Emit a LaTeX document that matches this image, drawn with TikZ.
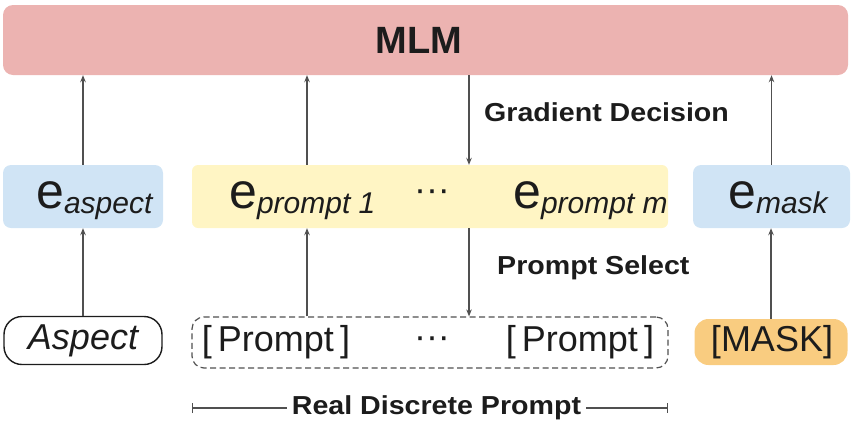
\documentclass[tikz,border=0pt]{standalone}
\usepackage{fontspec}
\setmainfont{Liberation Sans}
\usetikzlibrary{arrows.meta}

\definecolor{mlmpink}{RGB}{236,179,177}
\definecolor{embblue}{RGB}{208,228,245}
\definecolor{embyellow}{RGB}{255,245,196}
\definecolor{maskorange}{RGB}{249,204,128}
\definecolor{ink}{RGB}{28,28,28}
\definecolor{wire}{RGB}{80,80,80}

% embedding symbol: large upright e with an italic lowered subscript
\newcommand{\embsym}[1]{{\fontsize{50}{50}\selectfont e}\raisebox{-5pt}{\fontsize{30}{30}\selectfont\itshape #1}}
\newcommand{\rowdots}{{\fontsize{36}{36}\selectfont\textperiodcentered\textperiodcentered\textperiodcentered}}
\newcommand{\steplabel}[1]{\scalebox{1.1}[1]{\fontsize{26}{26}\selectfont\bfseries #1}}

\begin{document}
\begin{tikzpicture}[x=1pt,y=-1pt,
  every node/.style={text=ink, inner sep=0pt},
  panel/.style={draw=none, minimum width=#1},
  wirearrow/.style={draw=wire, line width=1.2pt, -{Stealth[length=7pt,width=5.5pt]}},
  wireline/.style={draw=wire, line width=1.1pt},
  toklabel/.style={font=\fontsize{36}{36}\selectfont},
  stepnote/.style={anchor=west, inner sep=0pt}
]
\useasboundingbox (0,0) rectangle (851,429);

% masked language model bar
\node[fill=mlmpink, rounded corners=10pt, minimum width=845pt, minimum height=70pt] (mlm) at (425.5,40) {};
\node (mlmtxt) at (419,40) {\fontsize{38}{38}\selectfont\bfseries MLM};

% embedding row
\node[fill=embblue, rounded corners=8pt, minimum width=160pt, minimum height=63pt] (easp) at (83,196.5) {};
\node[fill=embyellow, rounded corners=6pt, minimum width=476pt, minimum height=63pt] (ep) at (430,196.5) {};
\node[fill=embblue, rounded corners=8pt, minimum width=157pt, minimum height=63pt] (emask) at (771.5,196.5) {};

\node[anchor=base west] (easptxt) at (36,208) {\embsym{aspect}};
\node[anchor=base west] (ep1txt) at (229,208) {\embsym{prompt 1}};
\node (epdots) at (432,196) {\rowdots};
\node[anchor=base west] (epmtxt) at (513,208) {\embsym{prompt m}};
\node[anchor=base west] (emasktxt) at (728,208) {\embsym{mask}};

% token row
\node[draw=ink, line width=1.4pt, fill=white, rounded corners=18pt, minimum width=158pt, minimum height=48pt] (asp) at (83,340.5) {};
\node[toklabel] (asptxt) at (83,341) {\itshape Aspect};
\node[draw=wire, line width=1.2pt, dash pattern=on 6pt off 3.5pt, rounded corners=12pt, minimum width=476pt, minimum height=51pt] (dbox) at (430,342.5) {};
\node[toklabel] (pr1) at (276,342) {[\,Prompt\,]};
\node (prdots) at (432,343) {\rowdots};
\node[toklabel] (prm) at (580,342) {[\,Prompt\,]};
\node[fill=maskorange, rounded corners=14pt, minimum width=153pt, minimum height=46pt] (mask) at (771,342) {};
\node[toklabel] (masktxt) at (772,342) {[MASK]};

% arrow columns through the prompt panels
\coordinate (colA) at (307,0);
\coordinate (colB) at (469,0);

% connectors
\draw[wirearrow] (easp.north) -- (easp.north |- mlm.south);
\draw[wirearrow] (ep.north -| colA) -- (mlm.south -| colA);
\draw[wirearrow] (mlm.south -| colB) -- (ep.north -| colB);
\draw[wirearrow] (emask.north) -- (emask.north |- mlm.south);

\draw[wirearrow] (asp.north) -- (easp.south);
\draw[wirearrow] (dbox.north -| colA) -- (ep.south -| colA);
\draw[wirearrow] (ep.south -| colB) -- (dbox.north -| colB);
\draw[wirearrow] (mask.north) -- (mask.north |- emask.south);

% step notes
\node[stepnote] (grad) at (484,112) {\steplabel{Gradient Decision}};
\node[stepnote] (psel) at (497,268) {\steplabel{Prompt Select}};

% span of the real discrete prompt
\coordinate (spanL) at (192,408);
\coordinate (spanR) at (668,408);
\node[inner sep=5pt] (rdp) at (436.5,408) {\steplabel{Real Discrete Prompt}};
\draw[wireline, {Bar[width=10pt,line width=1.1pt]}-] (spanL) -- (rdp.west);
\draw[wireline, -{Bar[width=10pt,line width=1.1pt]}] (rdp.east) -- (spanR);
\end{tikzpicture}
\end{document}
